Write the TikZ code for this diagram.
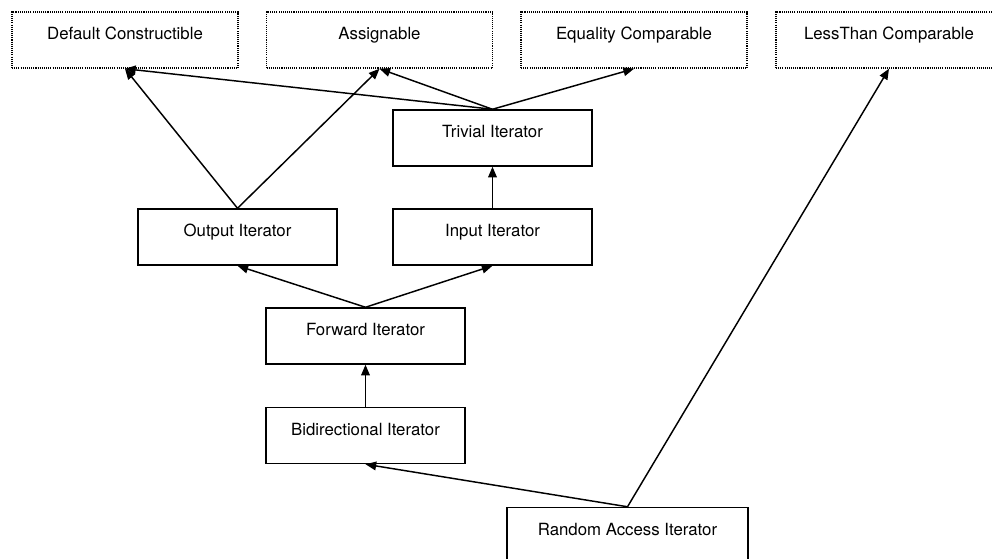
\documentclass[tikz,border=0pt]{standalone}
\usepackage{fontspec}
\setmainfont{TeX Gyre Heros}
\usetikzlibrary{arrows.meta}
\begin{document}
\begin{tikzpicture}[x=0.75pt,y=-0.75pt,
  blk/.style={draw,line width=1.1pt,minimum width=149.25pt,minimum height=42pt,inner sep=0pt,
    text height=6pt,text depth=6pt,font=\fontsize{12.6}{15}\selectfont},
  concept/.style={blk,dash pattern=on 0.8pt off 0.8pt,minimum width=169.5pt},
  dep/.style={line width=1.1pt,-{Triangle[length=8pt,width=6.5pt]}}]
 \path[use as bounding box,clip] (0,0) rectangle (992,559);
 % Concepts (top row, dotted)
 \node[concept] (defc) at (125,40) {Default Constructible};
 \node[concept] (asgn) at (379.5,40) {Assignable};
 \node[concept] (eqc) at (634,40) {Equality Comparable};
 \node[concept] (ltc) at (889,40) {LessThan Comparable};
 % Iterator categories
 \node[blk] (triv) at (492.5,138) {Trivial Iterator};
 \node[blk] (outp) at (237.5,237) {Output Iterator};
 \node[blk] (inp) at (492.5,237) {Input Iterator};
 \node[blk] (fwd) at (365.5,336) {Forward Iterator};
 \node[blk] (bidi) at (365.5,435.5) {Bidirectional Iterator};
 \node[blk,minimum width=180.75pt] (rand) at (627.5,535.5) {Random Access Iterator};
 % Refinements
 \draw[dep] (triv.north) -- (defc.south);
 \draw[dep] (triv.north) -- (asgn.south);
 \draw[dep] (triv.north) -- (eqc.south);
 \draw[dep] (outp.north) -- (defc.south);
 \draw[dep] (outp.north) -- (asgn.south);
 \draw[dep] (inp.north) -- (triv.south);
 \draw[dep] (fwd.north) -- (outp.south);
 \draw[dep] (fwd.north) -- (inp.south);
 \draw[dep] (bidi.north) -- (fwd.south);
 \draw[dep] (rand.north) -- (bidi.south);
 \draw[dep] (rand.north) -- (ltc.south);
\end{tikzpicture}
\end{document}
